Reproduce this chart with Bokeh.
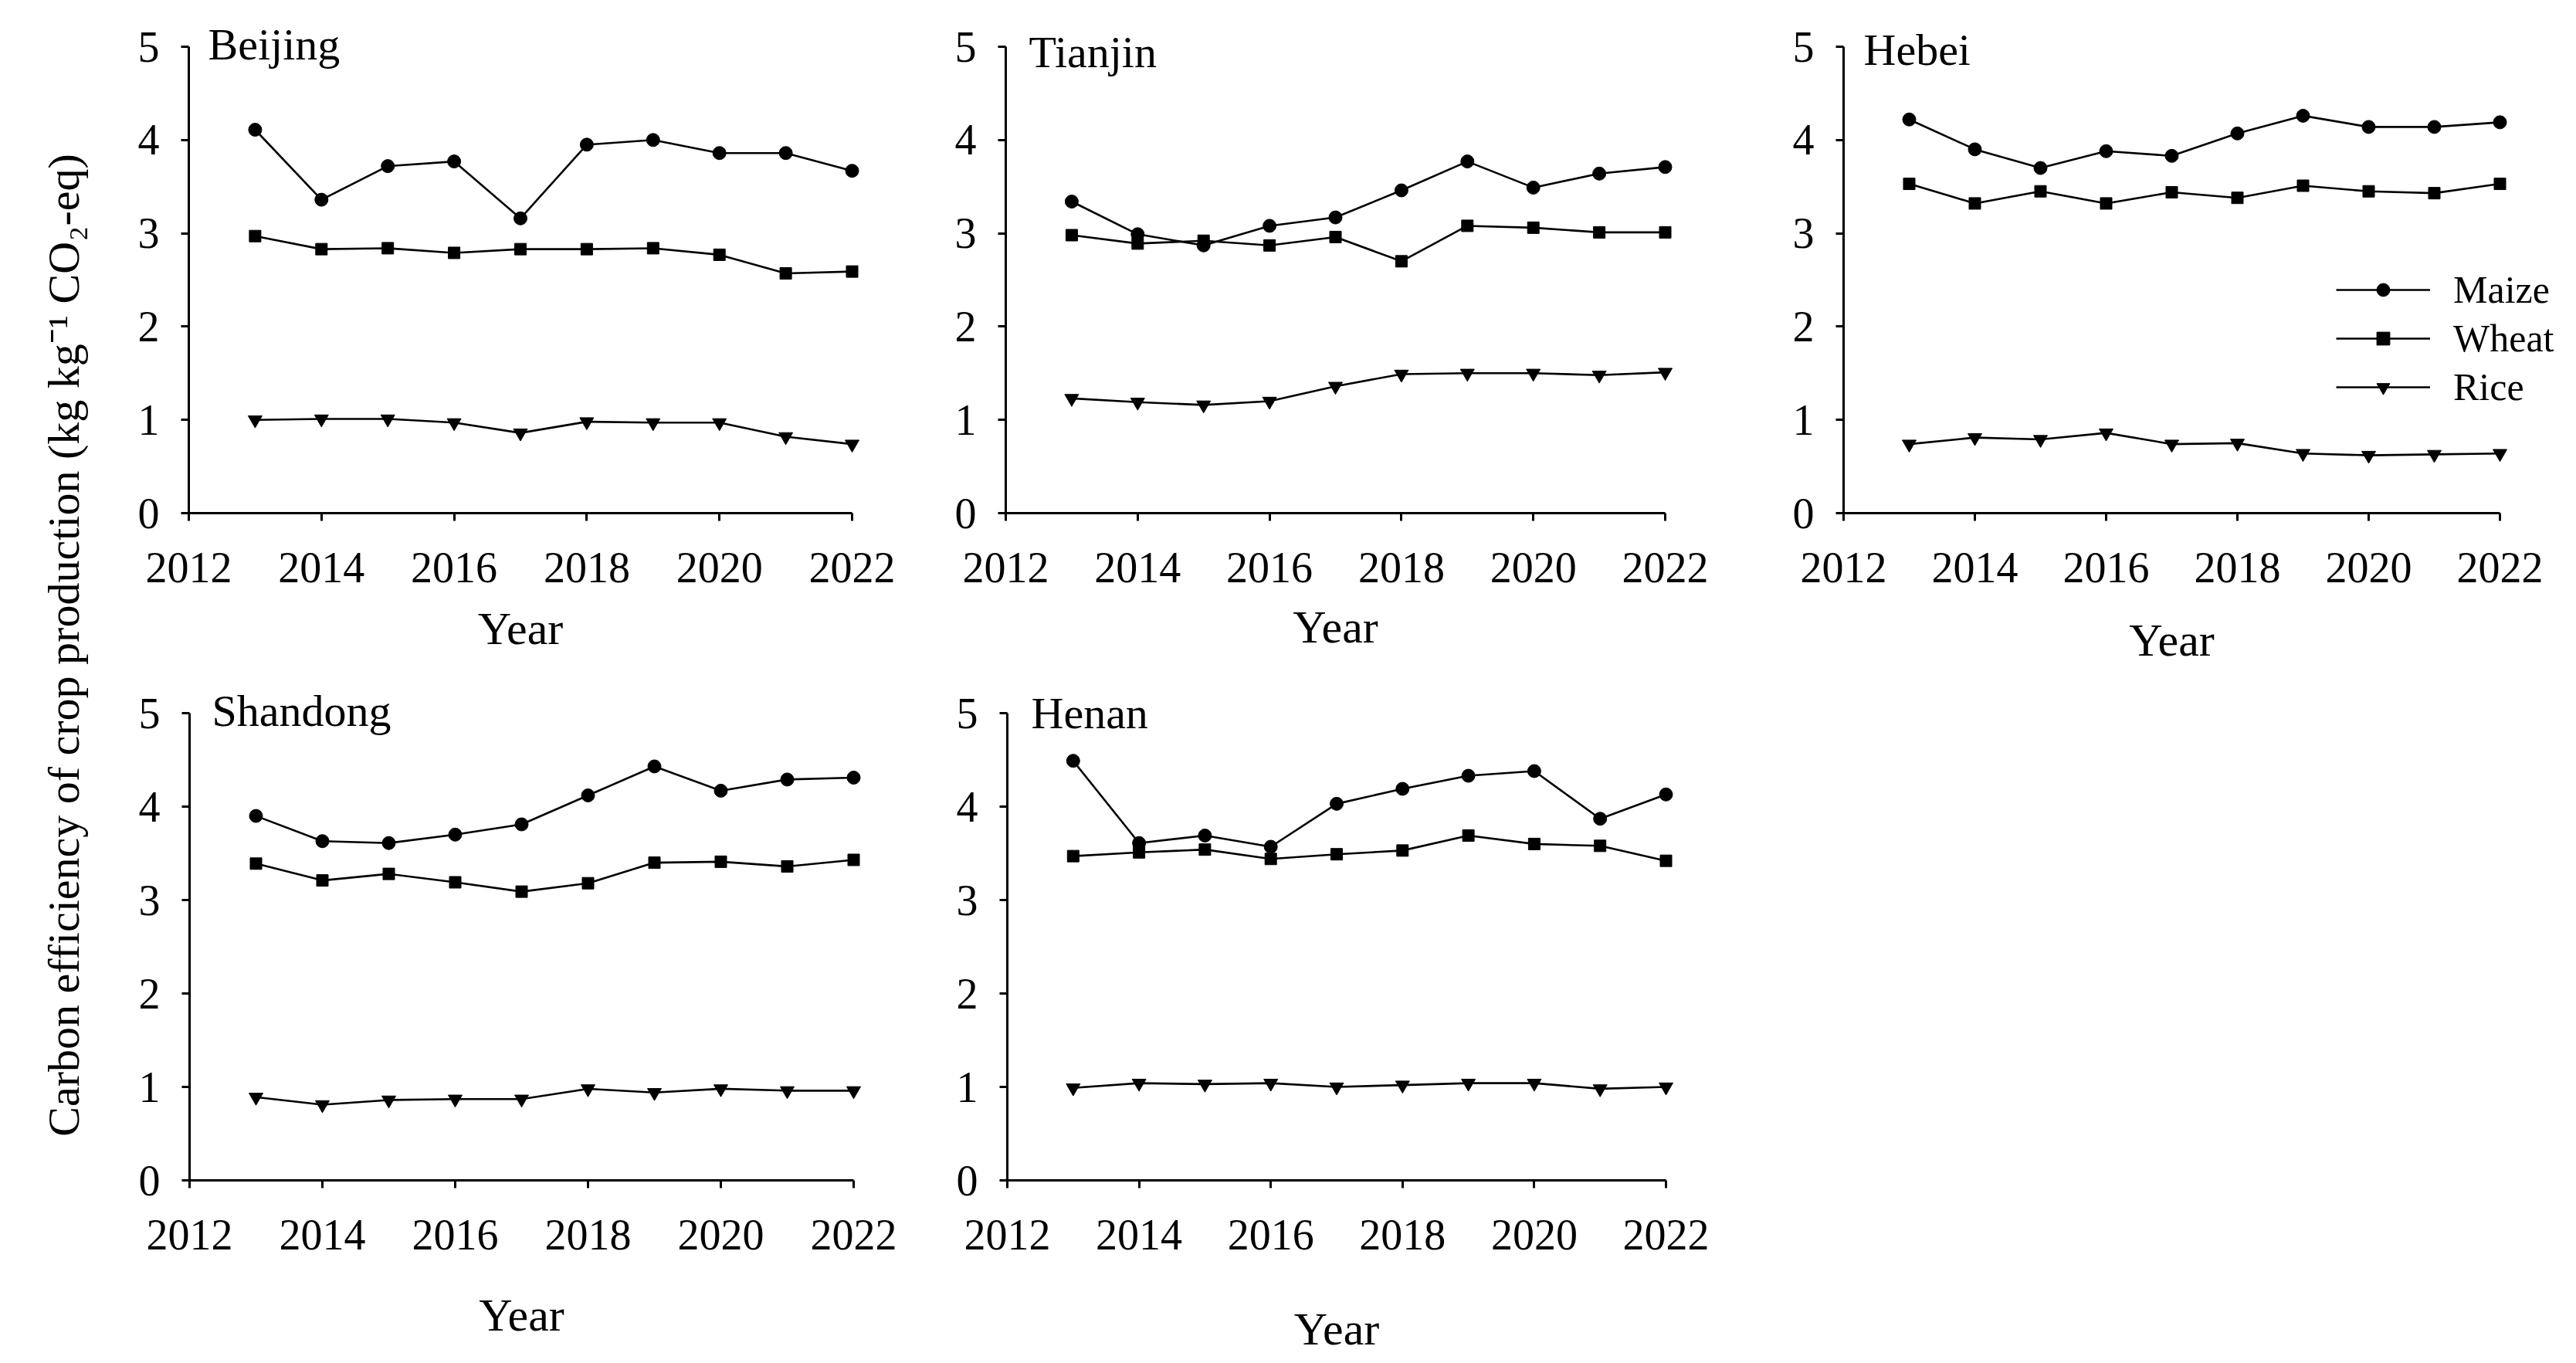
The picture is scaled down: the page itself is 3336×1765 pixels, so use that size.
import math
from bokeh.plotting import figure
from bokeh.layouts import row, column
from bokeh.models import Range1d, FixedTicker, Label, Legend, LegendItem
from bokeh.core.properties import value
from bokeh.embed import file_html
from bokeh.resources import INLINE

# ---------------- data ----------------
years = [2013, 2014, 2015, 2016, 2017, 2018, 2019, 2020, 2021, 2022]

beijing_maize = [4.11, 3.36, 3.72, 3.77, 3.16, 3.95, 4.00, 3.86, 3.86, 3.67]
beijing_wheat = [2.97, 2.83, 2.84, 2.79, 2.83, 2.83, 2.84, 2.77, 2.57, 2.59]
beijing_rice = [1.00, 1.01, 1.01, 0.97, 0.86, 0.98, 0.97, 0.97, 0.82, 0.74]

tianjin_maize = [3.34, 2.99, 2.87, 3.08, 3.17, 3.46, 3.77, 3.49, 3.64, 3.71]
tianjin_wheat = [2.98, 2.89, 2.92, 2.87, 2.96, 2.70, 3.08, 3.06, 3.01, 3.01]
tianjin_rice = [1.23, 1.19, 1.16, 1.20, 1.36, 1.49, 1.50, 1.50, 1.48, 1.51]

hebei_maize = [4.22, 3.90, 3.70, 3.88, 3.83, 4.07, 4.26, 4.14, 4.14, 4.19]
hebei_wheat = [3.53, 3.32, 3.45, 3.32, 3.44, 3.38, 3.51, 3.45, 3.43, 3.53]
hebei_rice = [0.74, 0.81, 0.79, 0.86, 0.74, 0.75, 0.64, 0.62, 0.63, 0.64]

shandong_maize = [3.90, 3.63, 3.61, 3.70, 3.81, 4.12, 4.43, 4.17, 4.29, 4.31]
shandong_wheat = [3.39, 3.21, 3.28, 3.19, 3.09, 3.18, 3.40, 3.41, 3.36, 3.43]
shandong_rice = [0.89, 0.81, 0.86, 0.87, 0.87, 0.98, 0.94, 0.98, 0.96, 0.96]

henan_maize = [4.49, 3.61, 3.69, 3.57, 4.03, 4.19, 4.33, 4.38, 3.87, 4.13]
henan_wheat = [3.47, 3.51, 3.54, 3.44, 3.49, 3.53, 3.69, 3.60, 3.58, 3.42]
henan_rice = [0.99, 1.04, 1.03, 1.04, 1.00, 1.02, 1.04, 1.04, 0.98, 1.00]

crop_names = ["Maize", "Wheat", "Rice"]
x_ticks = [2012, 2014, 2016, 2018, 2020, 2022]
y_ticks = [0, 1, 2, 3, 4, 5]
x_limits = (2012, 2022)
y_limits = (0, 5)

y_label_text = "Carbon efficiency of crop production (kg kg\u207b\u00b9 CO\u2082-eq)"
x_label_text = "Year"

# ---------------- style ----------------
FONT = "Liberation Serif"
TICK_SIZE = "56px"
TITLE_SIZE = "58px"
LABEL_SIZE = "60px"
YLABEL_SIZE = "58px"
LEGEND_SIZE = "50px"
LW = 2.6
MARKERS = [("circle", 17), ("square", 15), ("inverted_triangle", 18)]


def panel(name, series, width, height, left, top, fw, fh,
          title_dx, title_dy, year_dy, legend=False, extra_right=0):
    # extra_right: frame extends past the x axis end (room for an in-plot legend)
    fw_total = fw + extra_right
    right = width - left - fw_total
    bottom = height - top - fh
    px_x = fw / (x_limits[1] - x_limits[0])
    px_y = fh / (y_limits[1] - y_limits[0])
    p = figure(width=width, height=height,
               min_border_left=left, min_border_right=right,
               min_border_top=top, min_border_bottom=bottom,
               x_range=Range1d(x_limits[0], x_limits[1] + extra_right / px_x),
               y_range=Range1d(*y_limits),
               output_backend="svg", toolbar_location=None)
    p.outline_line_color = None
    p.xgrid.visible = False
    p.ygrid.visible = False
    p.background_fill_color = "white"
    p.border_fill_color = "white"

    p.xaxis.ticker = FixedTicker(ticks=x_ticks)
    p.yaxis.ticker = FixedTicker(ticks=y_ticks)
    p.xaxis.bounds = x_limits
    for ax in (p.xaxis[0], p.yaxis[0]):
        ax.axis_line_width = 3
        ax.axis_line_color = "black"
        ax.major_tick_line_width = 3
        ax.major_tick_line_color = "black"
        ax.major_tick_out = 10
        ax.major_tick_in = 0
        ax.minor_tick_line_color = None
        ax.major_label_text_font = FONT
        ax.major_label_text_font_size = TICK_SIZE
        ax.major_label_text_color = "black"
    p.xaxis.major_label_standoff = 41
    p.yaxis.major_label_standoff = 28

    items = []
    for (marker, msize), crop, vals in zip(MARKERS, crop_names, series):
        r1 = p.line(years, vals, line_color="black", line_width=LW, level="overlay")
        r2 = p.scatter(years, vals, marker=marker, size=msize,
                       fill_color="black", line_color="black", level="overlay")
        items.append(LegendItem(label=crop, renderers=[r1, r2]))

    # panel name (inside top-left corner) and x-axis title, as text glyphs
    p.text(x=[x_limits[0] + title_dx / px_x], y=[y_limits[1] - title_dy / px_y],
           text=[name], text_font=value(FONT), text_font_size=value(TITLE_SIZE),
           text_color="black", text_align="left", text_baseline="middle",
           level="overlay")
    p.text(x=[(x_limits[0] + x_limits[1]) / 2], y=[y_limits[0] - year_dy / px_y],
           text=[x_label_text], text_font=value(FONT), text_font_size=value(LABEL_SIZE),
           text_color="black", text_align="center", text_baseline="middle",
           level="overlay")

    if legend:
        lg = Legend(items=items, location=(638, 132), orientation="vertical",
                    glyph_width=122, glyph_height=42, label_height=63,
                    label_standoff=30, spacing=0, padding=0, margin=0,
                    label_text_font=FONT, label_text_font_size=LEGEND_SIZE,
                    label_text_color="black", border_line_color=None,
                    background_fill_alpha=0)
        p.add_layout(lg)
    return p


H1 = 874
H2 = 888
p1 = panel("Beijing", [beijing_maize, beijing_wheat, beijing_rice], 1062, H1, 116, 50, 859, 614, 25, -3, 152)
p2 = panel("Tianjin", [tianjin_maize, tianjin_wheat, tianjin_rice], 1080, H1, 112, 57, 854, 613, 30, 7, 150)
p3 = panel("Hebei", [hebei_maize, hebei_wheat, hebei_rice], 1058, H1, 117, 60, 850, 612, 26, 4, 167,
           legend=True, extra_right=91)
p4 = panel("Shandong", [shandong_maize, shandong_wheat, shandong_rice], 1062, H2, 117, 49, 860, 607, 29, -3, 175)
p5 = panel("Henan", [henan_maize, henan_wheat, henan_rice], 1080, H2, 114, 45, 853, 609, 31, 0, 194)

lab = figure(width=128, height=H1 + H2, x_range=Range1d(0, 128), y_range=Range1d(0, H1 + H2),
             x_axis_type=None, y_axis_type=None, min_border=0,
             output_backend="svg", toolbar_location=None)
lab.outline_line_color = None
lab.add_layout(Label(x=82, y=H1 + H2 - 835, angle=math.pi / 2, text=y_label_text,
                     text_font=FONT, text_font_size=YLABEL_SIZE, text_color="black",
                     text_align="center", text_baseline="middle"))

layout = row(lab, column(row(p1, p2, p3), row(p4, p5)))

open("out.html", "w").write(file_html(layout, INLINE))
